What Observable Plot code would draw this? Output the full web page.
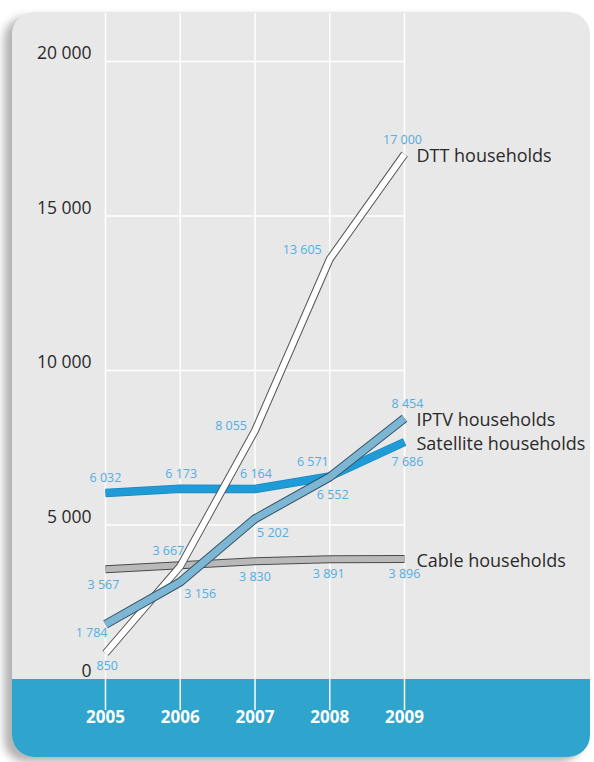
<!DOCTYPE html>
<html>
<head>
<meta charset="utf-8">
<script src="https://cdn.jsdelivr.net/npm/d3@7"></script>
<script src="https://cdn.jsdelivr.net/npm/@observablehq/plot@0.6"></script>
<style>
  html, body { margin: 0; padding: 0; background: #ffffff; }
  #wrap { position: relative; width: 594px; height: 762px; overflow: hidden; background: #fff; }
  #panel { position: absolute; left: 12px; top: 12px; width: 578px; height: 745px;
           border-radius: 22px; background: #e8e8e8; overflow: hidden;
           box-shadow: -8px 5px 9px rgba(0,0,0,0.3); }
  #band { position: absolute; left: 0; top: 667px; width: 100%; height: 78px; background: #2fa4cc; }
  #chart { position: absolute; left: 0; top: 0; }
  #chart svg { background: transparent !important; }
</style>
</head>
<body>
<div id="wrap">
  <div id="panel"><div id="band"></div></div>
  <div id="chart"></div>
</div>
<script>
// ---- data ----
const years = [2005, 2006, 2007, 2008, 2009];
const dtt = [850, 3667, 8055, 13605, 17000];
const iptv = [1784, 3156, 5202, 6552, 8454];
const satellite = [6032, 6173, 6164, 6571, 7686];
const cable = [3567, 3700, 3830, 3891, 3896];
// value labels shown on the chart (null = not labelled)
const dttLabels = ["850", "3 667", "8 055", "13 605", "17 000"];
const iptvLabels = ["1 784", "3 156", "5 202", "6 552", "8 454"];
const satelliteLabels = ["6 032", "6 173", "6 164", "6 571", "7 686"];
const cableLabels = ["3 567", null, "3 830", "3 891", "3 896"];
const seriesNames = ["Cable households", "Satellite households", "DTT households", "IPTV households"];
const yTicks = [0, 5000, 10000, 15000, 20000];
const yTickLabels = ["0", "5 000", "10 000", "15 000", "20 000"];

const seriesValues = [cable, satellite, dtt, iptv];
const seriesLabels = [cableLabels, satelliteLabels, dttLabels, iptvLabels];

// ---- styles ----
const styles = [
  {outline: "#4a4a4a", ow: 8, fill: "#b9b9b9", w: 6},      // cable
  {outline: "#1b86bf", ow: 8.5, fill: "#1f9bd7", w: 7},    // satellite
  {outline: "#555555", ow: 8, fill: "#ffffff", w: 6},      // DTT
  {outline: "#35556a", ow: 9, fill: "#7db6d2", w: 7}       // IPTV
];
// label placements per series, per point: [anchor, dx, dy]
const placements = [
  [["middle",-2,16], null, ["middle",0,16], ["middle",-1,15], ["middle",0,15]],
  [["middle",0,-15], ["middle",1,-15], ["middle",1,-15], ["end",-1,-14], ["middle",3,20]],
  [["start",-9,13], ["end",4,-15], ["end",-8,-5], ["end",-8,-9], ["middle",-2,-14]],
  [["end",2,9], ["start",4,12], ["start",2,14], ["start",-13,18], ["middle",3,-14]]
];

const tables = seriesValues.map((vals, s) => years.map((yr, i) => ({year: yr, value: vals[i], label: seriesLabels[s][i], s})));

const marks = [];
// grid
marks.push(Plot.ruleY(yTicks.slice(1), {x1: years[0], x2: years[years.length-1], y: d => d, stroke: "#ffffff", strokeWidth: 1.5, strokeOpacity: 1}));
marks.push(Plot.ruleX(years, {x: d => d, stroke: "#ffffff", strokeWidth: 1.5, strokeOpacity: 1}));
// y tick labels
marks.push(Plot.text(yTicks, {x: () => years[0], y: d => d, text: (d, i) => yTickLabels[i], textAnchor: "end", dx: -14, dy: -8, fontSize: 17.5, fill: "#2a2a2a"}));
// year labels
marks.push(Plot.text(years, {x: d => d, text: d => String(d), frameAnchor: "bottom", dy: 12, fontSize: 17, fontWeight: "bold", fill: "#ffffff"}));
// lines
tables.forEach((t, s) => {
  const st = styles[s];
  marks.push(Plot.line(t, {x: "year", y: "value", stroke: st.outline, strokeWidth: st.ow, curve: "linear", strokeLinecap: "butt", strokeLinejoin: "round"}));
  marks.push(Plot.line(t, {x: "year", y: "value", stroke: st.fill, strokeWidth: st.w, curve: "linear", strokeLinecap: "butt", strokeLinejoin: "round"}));
});
// value labels
tables.forEach((t, s) => {
  t.forEach((d, i) => {
    const p = placements[s][i];
    if (!p || !d.label) return;
    marks.push(Plot.text([d], {x: "year", y: "value", text: "label", textAnchor: p[0], dx: p[1], dy: p[2], fontSize: 12.5, fill: "#55ade0", stroke: "#e8e8e8", strokeWidth: 2, paintOrder: "stroke"}));
  });
});
// series names
marks.push(Plot.text(tables.map((t, s) => ({...t[t.length-1], name: seriesNames[s]})), {x: "year", y: "value", text: "name", textAnchor: "start", dx: 12, dy: 2, fontSize: 18, fill: "#2b2b2b"}));

const chart = Plot.plot({
  width: 594,
  height: 762,
  marginLeft: 105,
  marginRight: 190,
  marginTop: 13,
  marginBottom: 52,
  x: {domain: [2005, 2009], axis: null},
  y: {domain: [-1003, 21553], axis: null},
  style: {fontFamily: "'Open Sans', sans-serif", background: "transparent", overflow: "visible"},
  marks
});
document.getElementById("chart").appendChild(chart);
</script>
</body>
</html>
